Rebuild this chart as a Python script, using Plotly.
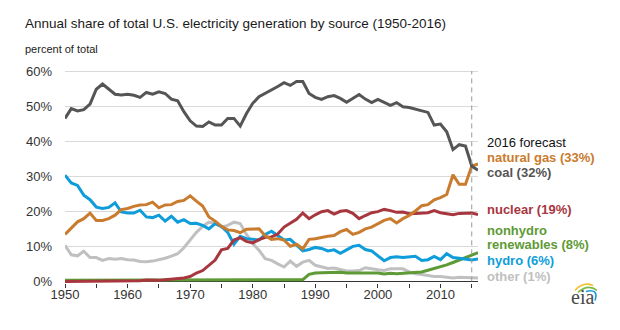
import plotly.graph_objects as go

years = list(range(1950, 2017))

coal = [46.5, 49.3, 48.6, 49.0, 50.6, 54.8, 56.3, 54.8, 53.4, 53.2,
        53.4, 53.1, 52.5, 53.9, 53.4, 54.1, 53.6, 52.0, 51.5, 48.4,
        45.8, 44.3, 44.2, 45.5, 44.6, 44.6, 46.5, 46.5, 44.3, 47.9,
        50.8, 52.7, 53.6, 54.6, 55.6, 56.7, 55.9, 57.0, 57.0, 53.6,
        52.5, 51.9, 52.7, 53.0, 52.2, 51.1, 52.2, 53.3, 52.0, 51.0,
        51.9, 51.0, 50.2, 51.0, 49.8, 49.6, 49.2, 48.7, 48.2, 44.6,
        44.9, 42.7, 37.6, 39.0, 38.6, 32.9, 31.7]
natural_gas = [13.4, 15.3, 17.0, 17.9, 19.5, 17.4, 17.4, 17.9, 18.9, 20.5,
               20.8, 21.4, 21.8, 21.9, 22.6, 21.0, 21.8, 21.9, 22.8, 23.1,
               24.4, 22.9, 21.5, 18.4, 17.2, 15.7, 14.7, 14.5, 13.9, 14.9,
               15.0, 15.0, 13.0, 12.0, 12.2, 11.8, 10.0, 10.6, 9.3, 12.0,
               12.2, 12.6, 12.9, 13.1, 14.2, 14.8, 13.4, 14.0, 15.0, 15.5,
               16.5, 17.4, 17.9, 16.7, 17.9, 18.8, 20.1, 21.6, 21.9, 23.3,
               23.9, 24.8, 30.4, 27.7, 27.7, 32.9, 33.5]
nuclear = [0.0, 0.0, 0.0, 0.0, 0.0, 0.0, 0.0, 0.0, 0.0, 0.1,
           0.1, 0.2, 0.2, 0.4, 0.3, 0.3, 0.5, 0.6, 0.9, 1.0,
           1.4, 2.4, 3.1, 4.5, 6.1, 9.0, 9.4, 11.8, 12.5, 11.4,
           11.0, 11.9, 12.6, 12.7, 13.5, 15.5, 16.6, 17.7, 19.5, 17.9,
           19.0, 19.9, 20.2, 19.2, 20.0, 20.2, 19.4, 17.9, 18.8, 19.6,
           19.9, 20.6, 20.2, 19.7, 19.8, 19.3, 19.4, 19.4, 19.6, 20.2,
           19.6, 19.3, 19.0, 19.4, 19.5, 19.5, 19.1]
hydro = [30.3, 28.1, 27.4, 24.6, 23.3, 21.2, 20.8, 21.1, 22.4, 19.8,
         19.5, 19.5, 20.3, 18.4, 18.2, 18.9, 17.2, 18.6, 16.9, 17.6,
         16.5, 16.6, 16.0, 15.0, 16.5, 15.7, 14.0, 10.6, 12.9, 12.2,
         12.0, 11.8, 13.4, 14.3, 13.1, 11.8, 12.0, 10.3, 8.7, 9.1,
         9.7, 9.4, 8.7, 9.0, 8.0, 9.0, 10.0, 10.3, 9.1, 8.7,
         7.4, 5.9, 6.8, 7.0, 6.8, 6.9, 7.2, 6.0, 6.2, 7.1,
         6.2, 7.9, 6.8, 6.6, 6.3, 6.1, 6.4]
renewables = [0.3, 0.3, 0.3, 0.3, 0.3, 0.3, 0.3, 0.3, 0.3, 0.3,
              0.3, 0.3, 0.3, 0.3, 0.3, 0.3, 0.3, 0.3, 0.3, 0.3,
              0.3, 0.3, 0.3, 0.3, 0.3, 0.3, 0.3, 0.3, 0.3, 0.3,
              0.3, 0.3, 0.3, 0.4, 0.5, 0.5, 0.5, 0.5, 0.5, 2.0,
              2.4, 2.5, 2.6, 2.7, 2.6, 2.4, 2.4, 2.4, 2.4, 2.4,
              2.4, 2.1, 2.3, 2.2, 2.3, 2.4, 2.6, 2.7, 3.2, 3.7,
              4.1, 4.7, 5.4, 6.1, 6.7, 7.3, 8.2]
other = [10.3, 7.6, 7.3, 8.6, 6.8, 6.8, 6.0, 6.5, 6.3, 6.5,
         6.2, 6.1, 5.7, 5.6, 5.8, 6.1, 6.6, 7.2, 7.9, 9.6,
         11.7, 14.0, 15.7, 16.9, 16.6, 15.5, 16.0, 16.9, 16.5, 13.4,
         10.8, 8.9, 6.5, 6.0, 5.0, 4.1, 5.8, 4.3, 5.5, 6.0,
         4.6, 4.1, 3.7, 3.8, 3.4, 3.0, 3.0, 3.1, 3.9, 3.5,
         3.3, 3.1, 3.6, 3.6, 3.6, 2.7, 2.2, 2.0, 1.6, 1.4,
         1.4, 1.2, 1.0, 1.2, 1.2, 1.2, 1.0]

y_ticks = [0, 10, 20, 30, 40, 50, 60]
y_labels = ["0%", "10%", "20%", "30%", "40%", "50%", "60%"]
x_ticks = [1950, 1960, 1970, 1980, 1990, 2000, 2010]
x_labels = ["1950", "1960", "1970", "1980", "1990", "2000", "2010"]
forecast_year = 2015

C_COAL = "#555555"
C_GAS = "#C97B2E"
C_NUC = "#A8363F"
C_HYD = "#0E9DDA"
C_REN = "#5E9A35"
C_OTH = "#C0C0C0"

W, H = 620, 330
ML, MR = 65, 142
PLOT_TOP, PLOT_BOT = 69.95, 282.6
MT, MB = PLOT_TOP, H - PLOT_BOT

def px(x):
    return (x - ML) / (W - ML - MR)

def py(y):
    return (PLOT_BOT - y) / (PLOT_BOT - PLOT_TOP)

fig = go.Figure()
series = [
    ("other", other, C_OTH),
    ("nonhydro renewables", renewables, C_REN),
    ("hydro", hydro, C_HYD),
    ("nuclear", nuclear, C_NUC),
    ("natural gas", natural_gas, C_GAS),
    ("coal", coal, C_COAL),
]
for name, vals, col in series:
    fig.add_trace(go.Scatter(x=years, y=vals, mode="lines", name=name,
                             line=dict(color=col, width=3), hoverinfo="skip"))

fig.add_shape(type="line", xref="x", yref="y", x0=forecast_year, x1=forecast_year,
              y0=0, y1=60, line=dict(color="#999999", width=1, dash="5px,4px"))

FONT = "Liberation Sans, Arial, sans-serif"

ann = []
ann.append(dict(text="Annual share of total U.S. electricity generation by source (1950-2016)",
                x=px(23), y=py(23.5), xref="paper", yref="paper", xanchor="left", yanchor="middle",
                showarrow=False, font=dict(family=FONT, size=13.5, color="#1a1a1a")))
ann.append(dict(text="percent of total", x=px(23), y=py(48.5), xref="paper", yref="paper",
                xanchor="left", yanchor="middle", showarrow=False,
                font=dict(family=FONT, size=11, color="#222222")))

labels = [
    ("2016 forecast", 142, "#111111", False),
    ("natural gas (33%)", 157.5, C_GAS, True),
    ("coal (32%)", 172.5, C_COAL, True),
    ("nuclear (19%)", 209, C_NUC, True),
    ("nonhydro", 230, C_REN, True),
    ("renewables (8%)", 244, C_REN, True),
    ("hydro (6%)", 260, C_HYD, True),
    ("other (1%)", 276, C_OTH, True),
]
for t, yy, col, bold in labels:
    ann.append(dict(text=("<b>%s</b>" % t) if bold else t, x=px(485), y=py(yy),
                    xref="paper", yref="paper", xanchor="left", yanchor="middle",
                    showarrow=False, font=dict(family=FONT, size=13, color=col)))

ann.append(dict(text="eia", x=px(582), y=py(297), xref="paper", yref="paper",
                xanchor="center", yanchor="middle", showarrow=False,
                font=dict(family="Liberation Serif, DejaVu Serif, serif", size=20, color="#4a4a4a")))

def path(pts):
    (x0, y0), (cx, cy), (x1, y1) = pts
    return "M %f,%f Q %f,%f %f,%f" % (px(x0), py(y0), px(cx), py(cy), px(x1), py(y1))

for pts, col in [
    (((575, 290), (583, 281), (593, 285)), "#F2C12E"),
    (((578, 292), (588, 283), (597, 290)), "#7DB847"),
    (((586, 291), (599, 288), (595, 300)), "#1E9AD6"),
]:
    fig.add_shape(type="path", xref="paper", yref="paper", path=path(pts),
                  line=dict(color=col, width=1.6))

fig.update_layout(
    width=W, height=H,
    margin=dict(l=ML, r=MR, t=MT, b=MB, pad=0),
    paper_bgcolor="white", plot_bgcolor="white",
    showlegend=False,
    annotations=ann,
    font=dict(family=FONT, size=13, color="#333333"),
    xaxis=dict(range=[1950, 2016], tickvals=x_ticks, ticktext=x_labels,
               ticks="outside", ticklen=4, ticklabelstandoff=-5,
               tickcolor="#333333", showgrid=False, zeroline=False, showline=False,
               minor=dict(dtick=5, tick0=1950, ticks="outside", ticklen=4, tickcolor="#333333"),
               tickfont=dict(family=FONT, size=13, color="#333333"), fixedrange=True),
    yaxis=dict(range=[-0.45, 60.3], tickvals=y_ticks, ticktext=y_labels,
               showgrid=True, gridcolor="#d9d9d9", gridwidth=1,
               zeroline=True, zerolinecolor="#333333", zerolinewidth=1,
               showline=False, ticks="", ticklabelstandoff=12,
               tickfont=dict(family=FONT, size=13, color="#333333"), fixedrange=True),
)

fig.write_html("out.html")
